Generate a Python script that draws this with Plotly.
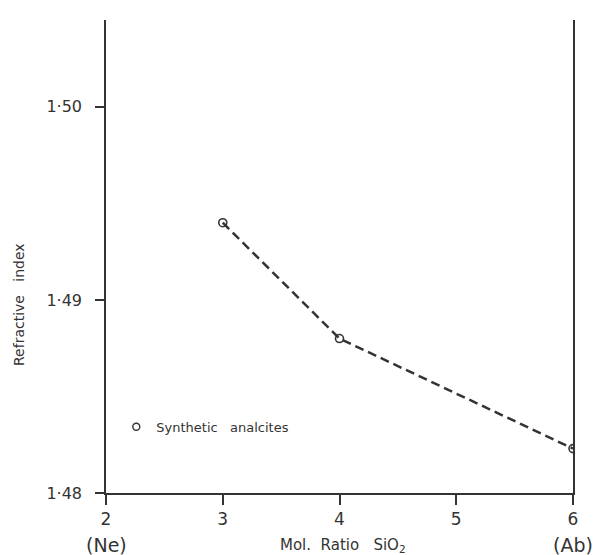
import plotly.graph_objects as go

mol_ratio = [3, 4, 6]
refractive_index = [1.4940, 1.4880, 1.4823]
x_tick_vals = [2, 3, 4, 5, 6]
x_tick_text = ["2", "3", "4", "5", "6"]
end_labels_x = [2, 6]
end_labels = ["(Ne)", "(Ab)"]
y_tick_vals = [1.48, 1.49, 1.50]
y_tick_text = ["1·48", "1·49", "1·50"]
legend_name = "Synthetic   analcites"

ink = "#333333"
fig = go.Figure()
fig.add_trace(go.Scatter(
    x=mol_ratio, y=refractive_index, mode="lines+markers",
    line=dict(color=ink, width=2.5, dash="9px,5px"),
    marker=dict(symbol="circle-open", size=8, color=ink, line=dict(width=1.6)),
    showlegend=False))
fig.add_trace(go.Scatter(
    x=[None], y=[None], mode="markers", name=legend_name,
    marker=dict(symbol="circle-open", size=7, color=ink, line=dict(width=1.4))))

fig.update_layout(
    width=601, height=555,
    margin=dict(l=106, r=28, t=20, b=62),
    paper_bgcolor="white", plot_bgcolor="white",
    font=dict(family="DejaVu Sans", color=ink),
    legend=dict(x=0.022, y=0.14, xanchor="left", yanchor="middle",
                bgcolor="rgba(0,0,0,0)", font=dict(size=13)),
    xaxis=dict(range=[2, 6], tickvals=x_tick_vals, ticktext=x_tick_text,
               showgrid=False, zeroline=False, showline=True, linecolor=ink,
               linewidth=1.5, ticks="outside", ticklen=10, tickcolor=ink,
               tickwidth=1.5, tickfont=dict(size=17)),
    yaxis=dict(range=[1.48, 1.5045], tickvals=y_tick_vals, ticktext=y_tick_text,
               showgrid=False, zeroline=False, showline=True, linecolor=ink,
               linewidth=1.5, mirror=True, ticks="outside", ticklen=9,
               tickcolor=ink, tickwidth=1.5, tickfont=dict(size=16),
               ticklabelstandoff=10),
)
for xv, lab in zip(end_labels_x, end_labels):
    fig.add_annotation(text=lab, xref="x", yref="paper", x=xv,
                       y=(493 - 545) / 473, showarrow=False,
                       font=dict(size=19), xanchor="center", yanchor="middle")
fig.add_annotation(text="Refractive   index", xref="paper", yref="paper",
                   x=(19 - 106) / 467, y=(493 - 305) / 473, textangle=-90,
                   showarrow=False, font=dict(size=14), xanchor="center",
                   yanchor="middle")
fig.add_annotation(text="Mol.  Ratio   SiO<sub>2</sub>", xref="paper", yref="paper",
                   x=(343 - 106) / 467, y=(493 - 545) / 473, showarrow=False,
                   font=dict(size=15), xanchor="center", yanchor="middle")
fig.write_html("out.html")
